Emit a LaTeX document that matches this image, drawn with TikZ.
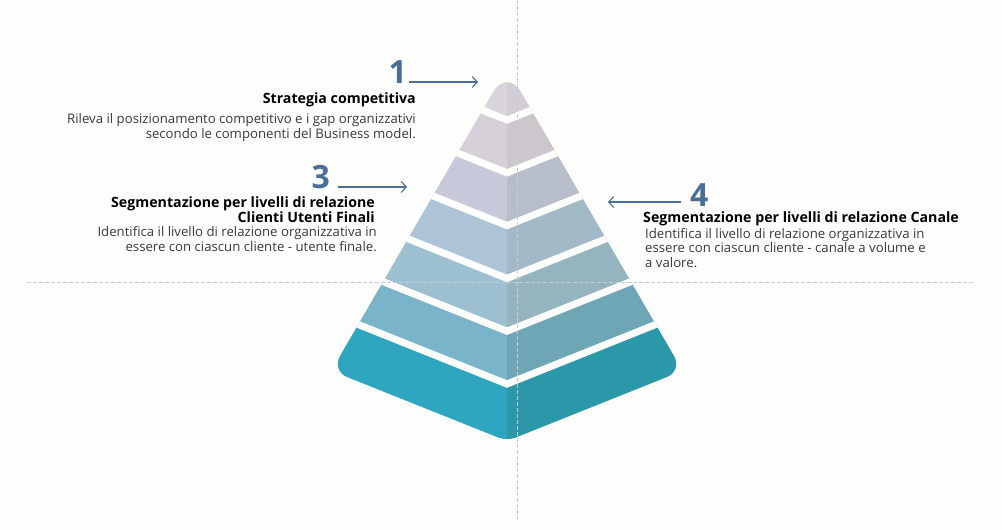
\documentclass[tikz,border=0pt]{standalone}
\usepackage{fontspec}
\setmainfont{Open Sans}
\usetikzlibrary{arrows.meta,calc}

% colours of the picture
\definecolor{numblue}{HTML}{4B6E97}
\definecolor{bodygray}{HTML}{3A3A3A}
\definecolor{guide}{HTML}{C9C9D9}
\definecolor{paper}{HTML}{FDFDFB}
% tiers, top to bottom: left half / right half
\definecolor{tierAl}{HTML}{D9D4DC}\definecolor{tierAr}{HTML}{D2CDD4}
\definecolor{tierBl}{HTML}{D5CFD7}\definecolor{tierBr}{HTML}{CCC6CD}
\definecolor{tierCl}{HTML}{C5C9DA}\definecolor{tierCr}{HTML}{B8BEC9}
\definecolor{tierDl}{HTML}{ADC4D7}\definecolor{tierDr}{HTML}{A2B9C7}
\definecolor{tierEl}{HTML}{9CC0D0}\definecolor{tierEr}{HTML}{94B5BF}
\definecolor{tierFl}{HTML}{79B4C8}\definecolor{tierFr}{HTML}{6FA6B6}
\definecolor{tierGl}{HTML}{2FA6BF}\definecolor{tierGr}{HTML}{2B98AA}

\tikzset{
  num/.style={font=\fontsize{32}{32}\selectfont\bfseries, text=numblue, inner sep=0pt},
  head/.style={font=\fontsize{14.2}{15}\selectfont\bfseries, text=black, inner sep=0pt},
  body/.style={font=\fontsize{13.2}{14.5}\selectfont, text=bodygray, inner sep=0pt},
  pointer/.style={numblue, line width=1.1pt, -{Straight Barb[length=5pt,width=11pt]}},
  gap/.style={white, line width=7pt},
  guideline/.style={guide, line width=0.8pt, dash pattern=on 4pt off 2pt}
}

\begin{document}
\begin{tikzpicture}[x=1pt,y=-1pt]

    % Page and background
    \useasboundingbox (0,0) rectangle (1002,530);
    \fill[paper] (0,0) rectangle (1002,530);

    % Define the corners of the pyramid
    \coordinate (T) at (507,68);          % Apex
    \coordinate (BL) at (331.4,370.8);    % Bottom left corner
    \coordinate (B) at (507,441);         % Bottom point
    \coordinate (BR) at (682.6,370.8);    % Bottom right corner

    % Tiers, clipped by the rounded outline
    \begin{scope}
        \path[clip] ($(T)!0.5!(BL)$) [rounded corners=28pt] -- (T)
            [rounded corners=17pt] -- (BR) [rounded corners=9pt] -- (B)
            [rounded corners=17pt] -- (BL) -- cycle;

        % Left and right halves of each tier
        \foreach \top/\bot/\cl/\cr in {-100/120/tierAl/tierAr,
                120/172.8/tierBl/tierBr, 172.8/225.6/tierCl/tierCr,
                225.6/278.4/tierDl/tierDr, 278.4/331.2/tierEl/tierEr,
                331.2/384/tierFl/tierFr, 384/600/tierGl/tierGr}{
            \fill[\cl] (507,\top) -- (190,{\top-126.8}) -- (190,{\bot-126.8}) -- (507,\bot) -- cycle;
            \fill[\cr] (507,\top) -- (824,{\top-126.8}) -- (824,{\bot-126.8}) -- (507,\bot) -- cycle;
        }

        % White gaps between the tiers
        \foreach \c in {120,172.8,225.6,278.4,331.2,384}
            \draw[gap] (190,{\c-126.8}) -- (507,\c) -- (824,{\c-126.8});
    \end{scope}

    % Dashed guide lines
    \draw[guideline] (27,282) -- (975,282);
    \draw[guideline] (517,0) -- (517,520);

    % Block 1
    \node[num, anchor=base east] (n1) at (407,83) {1};
    \coordinate (p1) at (478,82);
    \draw[pointer] ([xshift=2pt,yshift=1pt]n1.base east) -- (p1);
    \node[head, anchor=base east] (h1) at (416,103) {Strategia competitiva};
    \node[body, anchor=base east, align=right] (b1) at (416,138)
        {Rileva il posizionamento competitivo e i gap organizzativi\\
         secondo le componenti del Business model.};

    % Block 3
    \node[num, anchor=base east] (n3) at (330,188) {3};
    \coordinate (p3) at (407,187);
    \draw[pointer] ([xshift=8pt,yshift=1pt]n3.base east) -- (p3);
    \node[head, anchor=base east, align=right] (h3) at (375,222)
        {Segmentazione per livelli di relazione\\ Clienti Utenti Finali};
    \node[body, anchor=base east, align=right] (b3) at (377,251)
        {Identifica il livello di relazione organizzativa in\\
         essere con ciascun cliente - utente finale.};

    % Block 4
    \node[num, anchor=base west] (n4) at (690,206) {4};
    \coordinate (p4) at (608,202);
    \draw[pointer] ([xshift=-9pt,yshift=4pt]n4.base west) -- (p4);
    \node[head, anchor=base west] (h4) at (643,222)
        {Segmentazione per livelli di relazione Canale};
    \node[body, anchor=base west, align=left] (b4) at (645,267)
        {Identifica il livello di relazione organizzativa in\\
         essere con ciascun cliente - canale a volume e\\
         a valore.};

\end{tikzpicture}
\end{document}
